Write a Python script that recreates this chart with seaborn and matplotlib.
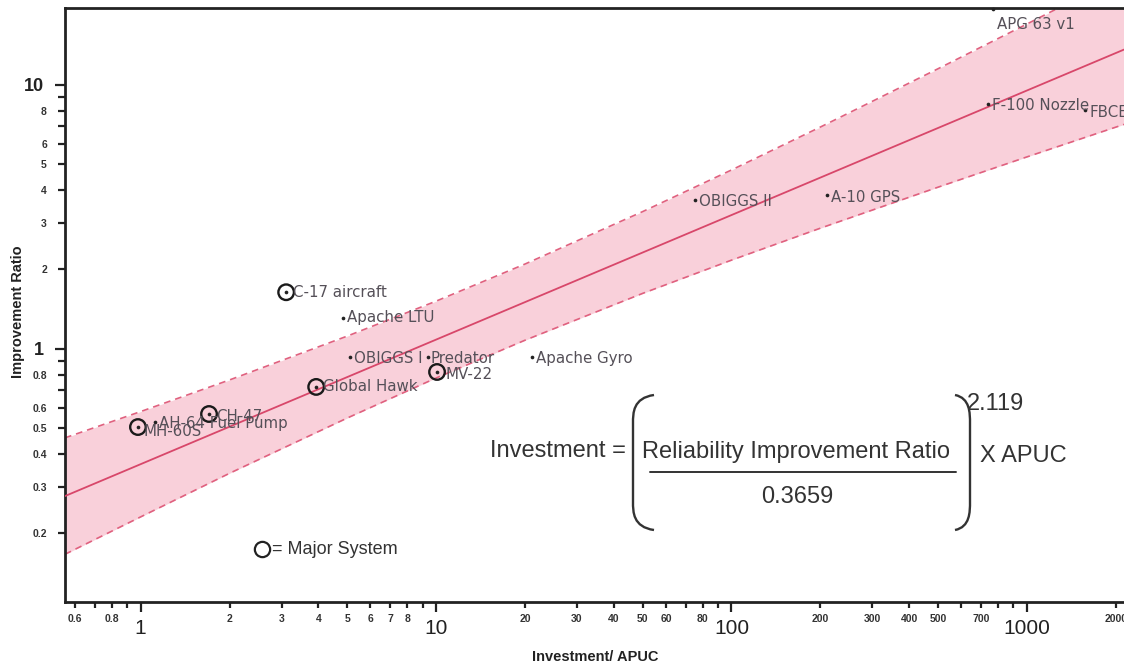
import numpy as np
import pandas as pd
import matplotlib
matplotlib.use("Agg")
import matplotlib.pyplot as plt
import seaborn as sns
from matplotlib.path import Path
from matplotlib.patches import PathPatch

# ---- programs: investment / APUC vs. reliability improvement ratio ----
programs = ["C-17 aircraft", "Apache LTU", "OBIGGS I", "Predator", "MV-22",
            "Global Hawk", "Apache Gyro", "CH-47", "MH-60S", "AH-64 Fuel Pump",
            "OBIGGS II", "A-10 GPS", "F-100 Nozzle", "FBCE", "APG 63 v1"]
investment = [3.11, 4.85, 5.12, 9.4, 10.08, 3.93, 21.1, 1.705, 0.98, 1.12,
              75.2, 210.0, 738.0, 1571.0, 767.0]
improvement = [1.64, 1.31, 0.933, 0.933, 0.818, 0.718, 0.933, 0.567, 0.506,
               0.529, 3.67, 3.83, 8.47, 8.04, 19.4]
major_system = [True, False, False, False, True, True, False, True, True, False,
                False, False, False, False, False]
# label offsets (points) from each program's marker
label_dx = [5, 3, 3, 2, 6, 5, 3, 5, 4, 3, 3, 3, 3, 3, 3]
label_dy = [0, 0, -1, -1, -2, 0, -1, -2, -3, -1, -1, -2, -1, -2, -11]

# fitted relation: Investment = (Ratio / 0.3659) ** 2.119
fit_coef = 0.3659
fit_exp = 2.119

# prediction band bounds
band_x = [0.555, 1, 2, 5, 10, 20, 50, 100, 200, 500, 1000, 2130]
band_upper = [0.4605, 0.579, 0.763, 1.118, 1.517, 2.097, 3.312, 4.764, 6.93,
              11.52, 17.02, 26.2]
band_lower = [0.1668, 0.231, 0.338, 0.547, 0.776, 1.079, 1.623, 2.170, 2.868,
              4.10, 5.34, 7.09]

# axis ticks
x_major = [1, 10, 100, 1000]
x_minor = [0.6, 0.7, 0.8, 0.9, 2, 3, 4, 5, 6, 7, 8, 9, 20, 30, 40, 50, 60, 70,
           80, 90, 200, 300, 400, 500, 600, 700, 800, 900, 2000]
x_minor_labeled = [0.6, 0.8, 2, 3, 4, 5, 6, 7, 8, 20, 30, 40, 50, 60, 80,
                   200, 300, 400, 500, 700, 2000]
y_major = [1, 10]
y_minor = [0.2, 0.3, 0.4, 0.5, 0.6, 0.7, 0.8, 0.9, 2, 3, 4, 5, 6, 7, 8, 9]
y_minor_labeled = [0.2, 0.3, 0.4, 0.5, 0.6, 0.8, 2, 3, 4, 5, 6, 8]

df = pd.DataFrame({"program": programs, "investment": investment,
                   "improvement": improvement, "major": major_system})

sns.set_style("ticks")
plt.rcParams["font.family"] = ["Liberation Sans", "DejaVu Sans"]

W, H = 1124, 667
X_LO, X_HI = 0.555, 2130
Y_LO, Y_HI = 0.110, 19.57
fig = plt.figure(figsize=(W / 100, H / 100), dpi=100)
ax = fig.add_axes([65 / W, 1 - 602 / H, 1 - 65 / W, (602 - 8) / H])
ax.set_xscale("log")
ax.set_yscale("log")
ax.set_xlim(X_LO, X_HI)
ax.set_ylim(Y_LO, Y_HI)

band_col = "#f9d0da"
line_col = "#d8476a"
ax.fill_between(band_x, band_lower, band_upper, color=band_col, lw=0, zorder=1)
for bound in (band_upper, band_lower):
    ax.plot(band_x, bound, color="#e0617f", lw=1.2, ls=(0, (4, 3)), zorder=2)

xs = np.logspace(np.log10(X_LO), np.log10(X_HI), 200)
fit_line = pd.DataFrame({"x": xs, "y": fit_coef * xs ** (1 / fit_exp)})
sns.lineplot(data=fit_line, x="x", y="y", color=line_col, lw=1.3, ax=ax,
             zorder=3)

sns.scatterplot(data=df, x="investment", y="improvement", color="#222222",
                s=7, linewidth=0, ax=ax, zorder=5, clip_on=False)
sns.scatterplot(data=df[df["major"]], x="investment", y="improvement",
                s=125, facecolor="none", edgecolor="#1a1a1a", linewidth=1.7,
                ax=ax, zorder=5)

for name, x, y, dx, dy in zip(programs, investment, improvement,
                              label_dx, label_dy):
    ax.annotate(name, (x, y), xytext=(dx, dy), textcoords="offset points",
                ha="left", va="center", fontsize=10.8, color="#555058",
                family=["DejaVu Sans"], zorder=6)

# legend for major systems
ax.plot([0.186], [0.089], transform=ax.transAxes, marker="o", ms=11,
        mfc="none", mec="#222222", mew=1.6, clip_on=False)
ax.text(0.1955, 0.089, "= Major System", transform=ax.transAxes,
        fontsize=13, color="#333333", va="center", ha="left")

# ticks
ax.set_xticks(x_major, labels=[f"{v:g}" for v in x_major], fontsize=15,
              color="#222222")
ax.set_xticks(x_minor, minor=True,
              labels=[f"{v:g}" if v in x_minor_labeled else "" for v in x_minor],
              fontsize=7.5, fontweight="bold", color="#333333")
ax.set_yticks(y_major, labels=[f"{v:g}" for v in y_major], fontsize=13,
              fontweight="bold", color="#222222")
ax.set_yticks(y_minor, minor=True,
              labels=[f"{v:g}" if v in y_minor_labeled else "" for v in y_minor],
              fontsize=7.5, fontweight="bold", color="#333333")
ax.tick_params(axis="x", which="major", length=7, width=1.6,
               color="#222222", pad=5)
ax.tick_params(axis="x", which="minor", length=4.5, width=1.6,
               color="#222222", pad=4)
ax.tick_params(axis="y", which="major", length=7, width=1.6,
               color="#222222", pad=8)
ax.tick_params(axis="y", which="minor", length=5, width=1.6,
               color="#222222", pad=8)

for side in ("left", "bottom", "top"):
    ax.spines[side].set_linewidth(2.0)
    ax.spines[side].set_color("#222222")
ax.spines["right"].set_visible(False)

ax.set_xlabel("")
ax.set_ylabel("")
fig.text(532 / W, 1 - 657 / H, "Investment/ APUC", fontsize=10.5,
         fontweight="bold", color="#222222", ha="left", va="center")
fig.text(18 / W, 1 - 312 / H, "Improvement Ratio", fontsize=10.5,
         fontweight="bold", color="#222222", ha="center", va="center",
         rotation=90)


# cost equation, placed in figure pixels
def fx(px):
    return px / W


def fy(py):
    return 1 - py / H


eq_kw = dict(fontsize=17, color="#333333", va="center")
fig.text(fx(490), fy(451), "Investment =", ha="left", **eq_kw)
fig.text(fx(642), fy(452), "Reliability Improvement Ratio", ha="left",
         **eq_kw)
fig.text(fx(797), fy(497), "0.3659", ha="center", **eq_kw)
fig.text(fx(967), fy(404), "2.119", ha="left", **eq_kw)
fig.text(fx(980), fy(456), "X APUC", ha="left", **eq_kw)
fig.add_artist(plt.Line2D([fx(650), fx(956)], [fy(472), fy(472)],
                          color="#333333", lw=1.4,
                          transform=fig.transFigure))


def bracket(x_tip, x_stem, top, bottom):
    verts = [(fx(x_tip), fy(top)),
             (fx(x_stem), fy(top + 3)), (fx(x_stem), fy(top + 18)),
             (fx(x_stem), fy(top + 28)),
             (fx(x_stem), fy(bottom - 28)),
             (fx(x_stem), fy(bottom - 18)), (fx(x_stem), fy(bottom - 3)),
             (fx(x_tip), fy(bottom))]
    codes = [Path.MOVETO, Path.CURVE4, Path.CURVE4, Path.CURVE4,
             Path.LINETO, Path.CURVE4, Path.CURVE4, Path.CURVE4]
    patch = PathPatch(Path(verts, codes), fill=False, lw=1.7,
                      edgecolor="#333333", transform=fig.transFigure)
    fig.add_artist(patch)


bracket(654, 633, 395, 530)
bracket(955, 970, 395, 530)

fig.savefig("out.png", dpi=100, facecolor="white")
